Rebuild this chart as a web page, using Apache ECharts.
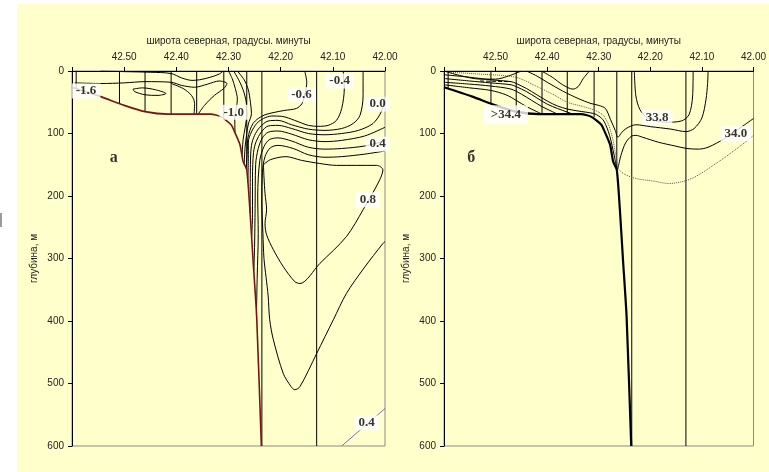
<!DOCTYPE html>
<html><head><meta charset="utf-8">
<script src="https://cdn.jsdelivr.net/npm/echarts@6/dist/echarts.min.js"></script>
<style>html,body{margin:0;padding:0;background:#fff;}#c{width:769px;height:472px;}</style>
</head><body><div id="c"></div>
<script>
// ---- tick labels / axis names ----
const xTickLabels = ['42.50','42.40','42.30','42.20','42.10','42.00'];
const yTickLabels = ['0','100','200','300','400','500','600'];
const xNameA = 'широта северная, градусы. минуты';
const xNameB = 'широта северная, градусы, минуты';
const yName = 'глубина, м';

// ---- stations (latitude) and their bottom depth ----
const stationLat = [42.592, 42.509, 42.460, 42.410, 42.361, 42.309, 42.265, 42.236, 42.131];
const stationBottom = [27, 52, 65, 69, 69, 74, 158, 600, 600];

// ---- sea floor [lat, depth] ----
const seafloor = [[42.60,26],[42.545,41],[42.50,55],[42.46,65],[42.416,69],[42.365,69],[42.334,69],[42.315,73],[42.295,86],[42.288,98],[42.278,118],[42.272,145],[42.265,158],[42.259,222],[42.253,302],[42.246,393],[42.237,600]];

// ---- panel a : temperature isolines [lat, depth] ----
const tA1 = [[42.545,0],[42.50,1],[42.45,2],[42.41,4],[42.39,11],[42.37,15],[42.355,14],[42.335,10],[42.318,5],[42.31,0]];
const tA2 = [[42.595,19],[42.545,20],[42.50,19],[42.46,17],[42.41,18],[42.39,23],[42.365,26],[42.34,21],[42.318,16],[42.303,20],[42.309,28],[42.327,39],[42.346,55],[42.358,69]];
const tA3 = [[42.41,20],[42.387,28],[42.371,39],[42.365,52],[42.366,69]];
const tAe = [[42.483,29],[42.465,27],[42.44,30],[42.42,36],[42.435,39],[42.46,38],[42.48,33],[42.483,29]];
const tM1 = [[42.300,0],[42.293,12],[42.287,28],[42.283,45],[42.285,60],[42.288,75],[42.2875,99]];
const tM2 = [[42.290,0],[42.280,15],[42.272,30],[42.266,50],[42.265,70],[42.268,90],[42.272,110],[42.274,136]];
const tM3 = [[42.283,0],[42.270,14],[42.262,30],[42.258,50],[42.256,68],[42.262,85],[42.265,100],[42.268,120],[42.270,149]];
const tN06 = [[42.154,0],[42.150,18],[42.153,35],[42.159,52],[42.170,60],[42.192,63],[42.211,66],[42.230,70],[42.243,76],[42.253,84],[42.259,95],[42.263,108],[42.264,125],[42.266,156]];
const tN04 = [[42.080,0],[42.079,14],[42.078,28],[42.083,60],[42.093,79],[42.109,87],[42.128,88.5],[42.147,87],[42.173,79],[42.198,72.5],[42.217,72],[42.233,76],[42.246,84],[42.256,97.6],[42.262,113.6],[42.262,140],[42.263,179]];
const tN02 = [[42.042,0],[42.042,40],[42.048,71],[42.061,84],[42.083,92],[42.115,95],[42.147,93],[42.179,86],[42.205,79],[42.224,80],[42.240,90],[42.250,103],[42.256,119],[42.258,150],[42.2585,228]];
const t00 = [[42.00,42],[42.007,65],[42.023,84],[42.051,95],[42.083,100],[42.115,102],[42.147,100],[42.179,92],[42.205,87],[42.224,88],[42.237,97.6],[42.247,113],[42.252,130],[42.254,170],[42.254,230],[42.2555,265]];
const t02 = [[42.00,90],[42.039,104],[42.083,111],[42.115,113],[42.147,110],[42.179,101],[42.205,96],[42.224,98],[42.235,107],[42.243,124],[42.248,150],[42.249,220],[42.250,280],[42.2515,320]];
const t04 = [[42.00,112],[42.039,120],[42.083,124],[42.115,125],[42.147,122],[42.179,112],[42.205,107],[42.222,110],[42.232,121],[42.240,143],[42.244,200],[42.243,260],[42.245,330],[42.2465,390]];
const t06 = [[42.00,128],[42.039,133],[42.083,137],[42.115,138],[42.147,134],[42.176,124],[42.205,119],[42.22,123],[42.23,137],[42.235,162],[42.236,210],[42.234,260],[42.232,300],[42.228,330],[42.224,360],[42.221,398],[42.214,430],[42.195,484],[42.180,505],[42.173,510],[42.163,505],[42.131,452],[42.099,398],[42.074,356],[42.04,315],[42.004,276],[42.00,273]];
const t08 = [[42.233,150],[42.22,142],[42.19,137],[42.16,143],[42.125,148],[42.093,151],[42.016,151],[42.004,158],[42.010,174],[42.042,222],[42.074,265],[42.125,308],[42.163,340],[42.173,337],[42.195,313],[42.214,286],[42.227,262],[42.230,244],[42.227,222],[42.230,196],[42.232,170],[42.233,150]];
const t04deep = [[42.00,540],[42.083,600]];
const labelsA = [[42.573,32,'-1.6'],[42.290,66,'-1.0'],[42.160,38,'-0.6'],[42.087,16,'-0.4'],[42.014,53,'0.0'],[42.014,117,'0.4'],[42.033,206,'0.8'],[42.035,563,'0.4']];

// ---- panel b : salinity isolines [lat, depth] ----
const sPa = [[42.60,0],[42.57,7],[42.53,13],[42.50,13],[42.475,8],[42.45,0]];
const sDash = [[42.53,16],[42.47,17]];
const sPc = [[42.411,0],[42.39,10],[42.37,22],[42.35,29],[42.34,25],[42.33,12],[42.318,0]];
const sPb = [[42.44,0],[42.42,8],[42.40,18],[42.37,32],[42.34,44],[42.315,52],[42.30,55],[42.287,60],[42.277,78],[42.268,95],[42.263,106],[42.255,98],[42.247,92],[42.228,86],[42.20,89],[42.16,93],[42.131,97],[42.115,92],[42.10,75],[42.092,45],[42.089,20],[42.088,0]];
const s340 = [[42.60,6],[42.55,10],[42.51,14],[42.47,17],[42.46,20],[42.44,28],[42.42,38],[42.40,48],[42.38,56],[42.36,61],[42.34,64],[42.31,68],[42.30,72],[42.29,80],[42.279,103],[42.270,135],[42.264,156],[42.257,135],[42.248,115],[42.236,104],[42.228,103],[42.215,106],[42.184,114],[42.152,120],[42.129,124],[42.107,125],[42.088,122],[42.056,108],[42.024,90],[42.00,76]];
const sPe = [[42.60,12],[42.55,16],[42.51,19],[42.47,22],[42.46,25],[42.44,33],[42.42,43],[42.40,53],[42.38,60],[42.36,66],[42.35,69]];
const sPf = [[42.60,18],[42.55,21],[42.51,24],[42.47,29],[42.45,37],[42.43,47],[42.41,57],[42.39,65],[42.38,69]];
const sPg = [[42.60,22],[42.55,27],[42.51,31],[42.48,38],[42.46,47],[42.44,57],[42.42,65],[42.41,69]];
const s338 = [[42.231,0],[42.228,40],[42.22,62],[42.205,75],[42.17,82],[42.14,80],[42.125,70],[42.118,40],[42.117,0]];
const sDot = [[42.59,2],[42.53,5],[42.461,10],[42.417,26],[42.385,39],[42.361,50],[42.33,57],[42.31,62],[42.30,66],[42.29,72],[42.28,88],[42.272,112],[42.266,140],[42.262,156],[42.25,165],[42.228,172],[42.195,176],[42.164,180],[42.12,172],[42.069,146],[42.024,119],[42.00,103]];
const labelsB = [[42.480,70,'>34.4'],[42.187,74,'33.8'],[42.034,100,'34.0']];
const panelLetters = [['а',42.52,139],['б',42.547,139]];

// ---------------------------------------------
const chart = echarts.init(document.getElementById('c'), null, {renderer:'canvas'});
const FONT = 'Liberation Sans, Arial, sans-serif';
function grid(left){ return {left:left, top:71, width:313, height:375, show:true, borderColor:'#8a8a8a', borderWidth:1, backgroundColor:'transparent'}; }
function xAx(i, name){
  return {gridIndex:i, type:'value', position:'top', inverse:true, min:42.0, max:42.6, interval:0.1,
    name:name, nameLocation:'middle', nameGap:25, nameTextStyle:{fontSize:10, color:'#222', fontFamily:FONT},
    axisLine:{show:true, lineStyle:{color:'#000', width:1}},
    axisTick:{show:true, length:4, lineStyle:{color:'#000'}},
    axisLabel:{fontSize:10, color:'#222', fontFamily:FONT, margin:9,
      formatter:v=>{const s=(+v).toFixed(2); return xTickLabels.includes(s)?s:'';}},
    splitLine:{show:false}};
}
function yAx(i){
  return {gridIndex:i, type:'value', inverse:true, min:0, max:600, interval:100,
    name:yName, nameLocation:'middle', nameGap:33, nameRotate:90, nameTextStyle:{fontSize:10, color:'#222', fontFamily:FONT},
    axisLine:{show:true, lineStyle:{color:'#000', width:1}},
    axisTick:{show:true, length:4, lineStyle:{color:'#000'}},
    axisLabel:{fontSize:10, color:'#222', fontFamily:FONT, margin:8,
      formatter:v=>{const s=String(Math.round(v)); return yTickLabels.includes(s)?s:'';}},
    splitLine:{show:false}};
}
function ln(i, data, o){
  o = o||{};
  return {type:'line', xAxisIndex:i, yAxisIndex:i, data:data, symbol:'none', smooth:(o.smooth===undefined?0.3:o.smooth),
    silent:true, animation:false, z:o.z||3,
    lineStyle:{color:o.color||'#000', width:o.width||1, type:o.type||'solid'}};
}
function labs(i, arr, o){
  o=o||{};
  return {type:'scatter', xAxisIndex:i, yAxisIndex:i, symbolSize:1, itemStyle:{color:'rgba(0,0,0,0)'}, silent:true, animation:false, z:10,
    data:arr.map(a=>({value:[a[0],a[1]], name:a[2], label:(a[2]==='>34.4'?{padding:[3,7]}:{})})),
    label:{show:true, position:'inside', formatter:'{b}', fontFamily:'Liberation Serif, Times New Roman, serif', fontWeight:'bold',
      fontSize:o.size||13, color:'#000', backgroundColor:o.bg===undefined?'#fff':o.bg, padding:[1,4]}};
}
const series = [];
[0,1].forEach(i=>{
  stationLat.forEach((lat,k)=>series.push(ln(i, [[lat,0],[lat,stationBottom[k]]], {smooth:false})));
});
// panel a
[tA1,tA2,tA3,tAe,tM1,tM2,tM3,tN06,tN04,tN02,t00,t02,t04,t06,t08].forEach(d=>series.push(ln(0,d)));
series.push(ln(0, t04deep, {color:'#7070c0', smooth:false}));
series.push(ln(0, seafloor, {color:'#7a1414', width:1.6, smooth:0.2, z:4}));
series.push(labs(0, labelsA));
// panel b
[sPa,sPc,sPb,s340,sPe,sPf,sPg,s338].forEach(d=>series.push(ln(1,d)));
series.push(ln(1, sDash, {type:'dashed', smooth:false}));
series.push(ln(1, sDot, {type:'dotted', color:'#555'}));
series.push(ln(1, seafloor, {color:'#000', width:2.2, smooth:0.2, z:4}));
series.push(labs(1, labelsB));
// panel letters
series.push({type:'scatter', xAxisIndex:0, yAxisIndex:0, symbolSize:1, itemStyle:{color:'rgba(0,0,0,0)'}, silent:true, animation:false, z:10,
  data:[{value:[panelLetters[0][1],panelLetters[0][2]], name:panelLetters[0][0]}],
  label:{show:true, position:'inside', formatter:'{b}', fontFamily:'Liberation Serif, serif', fontWeight:'bold', fontSize:16, color:'#000'}});
series.push({type:'scatter', xAxisIndex:1, yAxisIndex:1, symbolSize:1, itemStyle:{color:'rgba(0,0,0,0)'}, silent:true, animation:false, z:10,
  data:[{value:[panelLetters[1][1],panelLetters[1][2]], name:panelLetters[1][0]}],
  label:{show:true, position:'inside', formatter:'{b}', fontFamily:'Liberation Serif, serif', fontWeight:'bold', fontSize:16, color:'#000'}});

chart.setOption({
  animation:false,
  backgroundColor:'#fff',
  graphic:[
    {type:'rect', shape:{x:17,y:4,width:752,height:468}, style:{fill:'#FFFFCC'}, z:-100, silent:true},
    {type:'rect', shape:{x:0,y:213,width:2,height:14}, style:{fill:'#9a9a9a'}, z:-99, silent:true}
  ],
  grid:[grid(72), grid(444)],
  xAxis:[xAx(0,xNameA), xAx(1,xNameB)],
  yAxis:[yAx(0), yAx(1)],
  series:series
});
</script></body></html>
